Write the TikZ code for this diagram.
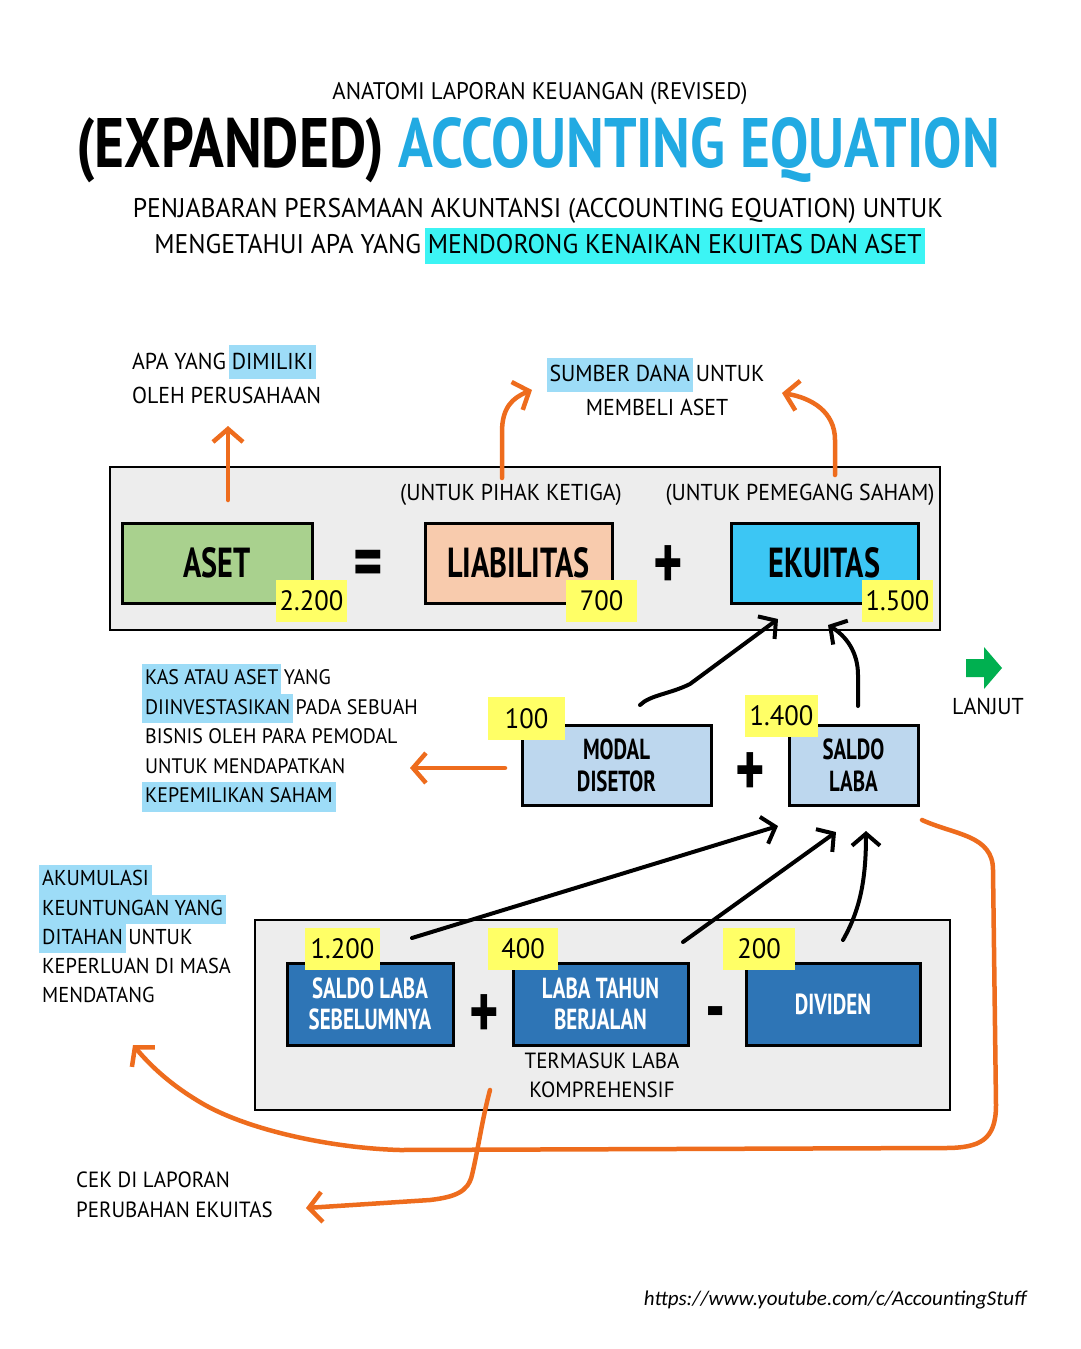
\documentclass[tikz,border=0pt]{standalone}
\usepackage{fontspec}
\setmainfont{PT Sans}[FakeStretch=0.95]
\newfontfamily\handfont{PT Sans}[FakeStretch=0.72]
\newfontfamily\titlefont{PT Sans}[FakeStretch=0.82]
\newfontfamily\urlfont{Carlito}
\usetikzlibrary{arrows.meta}

\definecolor{bandgray}{HTML}{EDEDED}
\definecolor{asetgreen}{HTML}{A9D18E}
\definecolor{liabpeach}{HTML}{F8CBAD}
\definecolor{ekuitascyan}{HTML}{3CC6F4}
\definecolor{modallight}{HTML}{BDD7EE}
\definecolor{labablue}{HTML}{2E75B6}
\definecolor{tagyellow}{HTML}{FFFF66}
\definecolor{hlblue}{HTML}{9DDCF7}
\definecolor{hlcyan}{HTML}{3CF4F4}
\definecolor{titleblue}{HTML}{22AAE2}
\definecolor{arrorange}{HTML}{EE6C1D}
\definecolor{lanjutgreen}{HTML}{00B050}

% highlighted words
\newcommand\hlb[1]{{\setlength\fboxsep{0pt}\kern-3pt\colorbox{hlblue}{\kern3pt\strut#1\kern3pt}\kern-3pt}}
\newcommand\hlc[1]{{\setlength\fboxsep{0pt}\kern-3pt\colorbox{hlcyan}{\kern3pt\strut#1\kern3pt}\kern-3pt}}

\begin{document}
\begin{tikzpicture}[x=1pt,y=-1pt,
    band/.style={draw=black,line width=1.4pt,fill=bandgray,inner sep=0pt},
    acct/.style={draw=black,line width=3pt,inner sep=0pt,align=center,
        font=\handfont\bfseries\fontsize{42}{46}\selectfont},
    subacct/.style={acct,fill=modallight,font=\handfont\bfseries\fontsize{29}{32}\selectfont},
    retacct/.style={acct,fill=labablue,text=white,font=\handfont\bfseries\fontsize{29}{31}\selectfont},
    tag/.style={fill=tagyellow,inner sep=0pt,font=\fontsize{28}{32}\selectfont},
    op/.style={font=\handfont\bfseries\fontsize{78}{78}\selectfont},
    note/.style={align=left,inner sep=0pt,anchor=north west},
    orarrow/.style={draw=arrorange,line width=4.5pt,line cap=round,line join=round,
        -{Straight Barb[length=13pt,width=30pt]}},
    blkarrow/.style={draw=black,line width=4pt,line cap=round,line join=round,
        -{Straight Barb[length=12pt,width=28pt]}}]

    \fill[white] (0,0) rectangle (1080,1349);
    \useasboundingbox (0,0) rectangle (1080,1349);

    % title
    \node (kicker) at (540,94) {\fontsize{24}{28}\selectfont ANATOMI LAPORAN KEUANGAN (REVISED)};
    \node (title) at (538,150) {\titlefont\bfseries\fontsize{70}{76}\selectfont
        (EXPANDED) \textcolor{titleblue}{ACCOUNTING EQUATION}};
    \node[align=center,font=\fontsize{27}{36}\selectfont] (subtitle) at (538,231)
        {PENJABARAN PERSAMAAN AKUNTANSI (ACCOUNTING EQUATION) UNTUK\\
         MENGETAHUI APA YANG \hlc{MENDORONG KENAIKAN EKUITAS DAN ASET}};

    % equation row
    \path
    (525,548.5) node[band,minimum width=830,minimum height=163] (topband) {}
    (217,563)   node[acct,fill=asetgreen,minimum width=190,minimum height=80] (aset) {ASET}
    (518.5,563) node[acct,fill=liabpeach,minimum width=187,minimum height=80] (liab) {LIABILITAS}
    (824.5,563) node[acct,fill=ekuitascyan,minimum width=187,minimum height=80] (ekuitas) {EKUITAS}
    (368,569)   node[op] (eqsign) {=}
    (668,568)   node[op] (plustop) {+}
    (511,495)   node[font=\fontsize{23}{26}\selectfont] (pihak) {(UNTUK PIHAK KETIGA)}
    (800,495)   node[font=\fontsize{23}{26}\selectfont] (saham) {(UNTUK PEMEGANG SAHAM)}
    (311.5,601) node[tag,minimum width=71,minimum height=42] (tagaset) {2.200}
    (601.5,601) node[tag,minimum width=71,minimum height=42] (tagliab) {700}
    (897.5,601) node[tag,minimum width=71,minimum height=42] (tagekuitas) {1.500};

    % equity row
    \path
    (616.5,765) node[subacct,minimum width=189,minimum height=80] (modal) {MODAL\\DISETOR}
    (853.5,765) node[subacct,minimum width=129,minimum height=80] (saldo) {SALDO\\LABA}
    (750,775)   node[op] (plusmid) {+}
    (526.5,718.5) node[tag,minimum width=77,minimum height=43] (tagmodal) {100}
    (781.5,716) node[tag,minimum width=73,minimum height=42] (tagsaldo) {1.400};

    % retained earnings row
    \path
    (602.5,1015) node[band,minimum width=695,minimum height=190] (botband) {}
    (370,1004)   node[retacct,minimum width=166,minimum height=82] (sebelum) {SALDO LABA\\SEBELUMNYA}
    (600.5,1004) node[retacct,minimum width=175,minimum height=82] (berjalan) {LABA TAHUN\\BERJALAN}
    (833,1004)   node[retacct,minimum width=174,minimum height=82] (dividen) {DIVIDEN}
    (484,1017)   node[op] (plusbot) {+}
    (716,1020)   node[op] (minusbot) {-}
    (342.5,949)  node[tag,minimum width=75,minimum height=42] (tagsebelum) {1.200}
    (523,949)    node[tag,minimum width=70,minimum height=42] (tagberjalan) {400}
    (759,949)    node[tag,minimum width=72,minimum height=42] (tagdividen) {200}
    (602,1075)   node[align=center,font=\fontsize{22}{29}\selectfont] (termasuk) {TERMASUK LABA\\KOMPREHENSIF};

    % notes
    \node[note,font=\fontsize{23}{34}\selectfont] (dimiliki) at (132,345)
        {APA YANG \hlb{DIMILIKI}\\OLEH PERUSAHAAN};
    \node[align=center,inner sep=0pt,font=\fontsize{23}{34}\selectfont] (sumber) at (657,387)
        {\hlb{SUMBER DANA} UNTUK\\MEMBELI ASET};
    \node[note,font=\fontsize{21}{29.5}\selectfont] (kas) at (145,664)
        {\hlb{KAS ATAU ASET} YANG\\\hlb{DIINVESTASIKAN} PADA SEBUAH\\BISNIS OLEH PARA PEMODAL\\
         UNTUK MENDAPATKAN\\\hlb{KEPEMILIKAN SAHAM}};
    \node[note,font=\fontsize{21.5}{29.3}\selectfont] (akumulasi) at (42,865)
        {\hlb{AKUMULASI}\\\hlb{KEUNTUNGAN YANG}\\\hlb{DITAHAN} UNTUK\\KEPERLUAN DI MASA\\MENDATANG};
    \node[note,font=\fontsize{22}{30}\selectfont] (cek) at (76,1172)
        {CEK DI LAPORAN\\PERUBAHAN EKUITAS};
    \node[font=\fontsize{23}{26}\selectfont] (lanjut) at (988,706) {LANJUT};
    \node[anchor=east] (url) at (1030,1300)
        {\urlfont\itshape\fontsize{21}{24}\selectfont https://www.youtube.com/c/AccountingStuff};

    % next arrow
    \fill[lanjutgreen] (966,659) -- (984,659) -- (984,647) -- (1002,668)
        -- (984,689) -- (984,677) -- (966,677) -- cycle;

    % orange arrows
    \coordinate (asetfoot) at (228,500);
    \coordinate (dimilikitip) at (228,426);
    \coordinate (liabfoot) at (502,478);
    \coordinate (sumberleft) at (532,390);
    \coordinate (ekuitasfoot) at (835,475);
    \coordinate (sumberright) at (782,393);
    \coordinate (modalleft) at (505,768);
    \coordinate (kastip) at (410,768);
    \coordinate (saldofoot) at (922,820);
    \coordinate (akumulasitip) at (133,1045);
    \coordinate (berjalanfoot) at (490,1090);
    \coordinate (cektip) at (306,1208);

    \draw[orarrow] (asetfoot) -- (dimilikitip);
    \draw[orarrow] (liabfoot) -- (502,432) .. controls (502,408) and (512,398) .. (sumberleft);
    \draw[orarrow] (ekuitasfoot) -- (835,440) .. controls (835,412) and (812,398) .. (sumberright);
    \draw[orarrow] (modalleft) -- (kastip);
    \draw[orarrow] (saldofoot) .. controls (955,835) and (993,835) .. (993,870)
        -- (996,1105) .. controls (996,1140) and (980,1148) .. (945,1148)
        -- (400,1150) .. controls (330,1148) and (250,1130) .. (205,1105)
        .. controls (170,1085) and (150,1065) .. (akumulasitip);
    \draw[orarrow] (berjalanfoot) .. controls (482,1120) and (478,1150) .. (472,1175)
        .. controls (468,1192) and (455,1197) .. (430,1200) -- (cektip);

    % black arrows
    \coordinate (modaltop) at (640,705);
    \coordinate (ekuitasleft) at (778,619);
    \coordinate (saldotop) at (858,706);
    \coordinate (ekuitasright) at (828,625);
    \draw[blkarrow] (modaltop) .. controls (650,695) and (670,694) .. (690,684) -- (ekuitasleft);
    \draw[blkarrow] (saldotop) -- (858,675) .. controls (858,652) and (846,636) .. (ekuitasright);
    \draw[blkarrow] (412,938) -- (778,826);
    \draw[blkarrow] (683,942) -- (836,832);
    \draw[blkarrow] (843,940) .. controls (860,910) and (866,880) .. (866,831);
\end{tikzpicture}
\end{document}
